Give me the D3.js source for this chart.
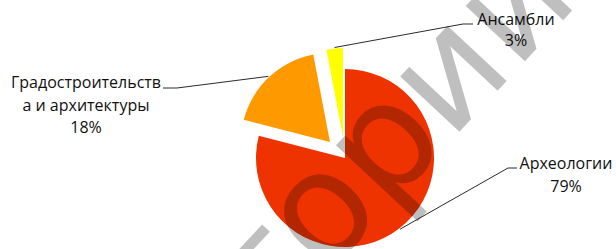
<!DOCTYPE html>
<html><head><meta charset="utf-8">
<script src="https://cdn.jsdelivr.net/npm/d3@7"></script>
<style>body{margin:0;background:#fff;overflow:hidden} svg{display:block}</style>
</head><body><svg id="c" width="616" height="249"></svg>
<script>
// ---- data ----
const categories = ["Археологии", "Градостроительства и архитектуры", "Ансамбли"];
const values = [79, 18, 3];
const percentLabels = ["79%", "18%", "3%"];
const labelLines = [["Археологии"], ["Градостроительств", "а и архитектуры"], ["Ансамбли"]];
const sliceColors = ["#EE3300", "#FF9900", "#FFFF00"];
const watermarkText = "Репозиторий";

// ---- layout ----
const svg = d3.select("#c");
const cx = 345, cy = 158, R = 89;
const explode = [0, 22, 21];
const font = "'Open Sans', sans-serif";
const fs = 16;

const pie = d3.pie().sort(null).value(d => d)(values);
const arc = d3.arc().innerRadius(0).outerRadius(R);

const g = svg.append("g").attr("transform", `translate(${cx},${cy})`);
const offs = pie.map((d, i) => {
  const a = (d.startAngle + d.endAngle) / 2;
  return [Math.sin(a) * explode[i], -Math.cos(a) * explode[i], a];
});

g.selectAll("path.slice").data(pie).join("path")
  .attr("class", "slice")
  .attr("d", arc)
  .attr("fill", (d, i) => sliceColors[i])
  .attr("transform", (d, i) => `translate(${offs[i][0]},${offs[i][1]})`);

const labelPos = [
  { elbow: [508, 168], end: [517, 168], x: 566, y: 169, lh: 22.5 },
  { elbow: [177, 88], end: [163, 88], x: 86, y: 88, lh: 22.5 },
  { elbow: [463, 24], end: [473, 24], x: 516, y: 25, lh: 20.5 }
];

pie.forEach((d, i) => {
  const a = offs[i][2];
  const sx = cx + offs[i][0] + Math.sin(a) * (R + 1);
  const sy = cy + offs[i][1] - Math.cos(a) * (R + 1);
  const p = labelPos[i];
  svg.append("polyline")
    .attr("points", [[sx, sy], p.elbow, p.end].map(q => q.join(",")).join(" "))
    .attr("fill", "none").attr("stroke", "#2a2a2a").attr("stroke-width", 1);
  const t = svg.append("text")
    .attr("font-family", font).attr("font-size", fs).attr("fill", "#111")
    .attr("text-anchor", "middle");
  const lines = labelLines[i].concat([percentLabels[i]]);
  lines.forEach((ln, k) => {
    t.append("tspan").attr("x", p.x).attr("y", p.y + k * p.lh).text(ln);
  });
});

// watermark (semi-transparent)
const wmSize = 148;
const wm = svg.append("text")
  .attr("font-family", "'DejaVu Sans', sans-serif")
  .attr("font-size", wmSize)
  .attr("fill", "#000").attr("fill-opacity", 0.25)
  .text(watermarkText);
const node = wm.node();
const s7 = node.getStartPositionOfChar(7).x, e7 = node.getEndPositionOfChar(7).x;
const ocx = (s7 + e7) / 2, ocy = -0.27 * wmSize;
wm.attr("transform", `translate(326,216) rotate(-47) translate(${-ocx},${-ocy})`);
</script>
</body></html>
